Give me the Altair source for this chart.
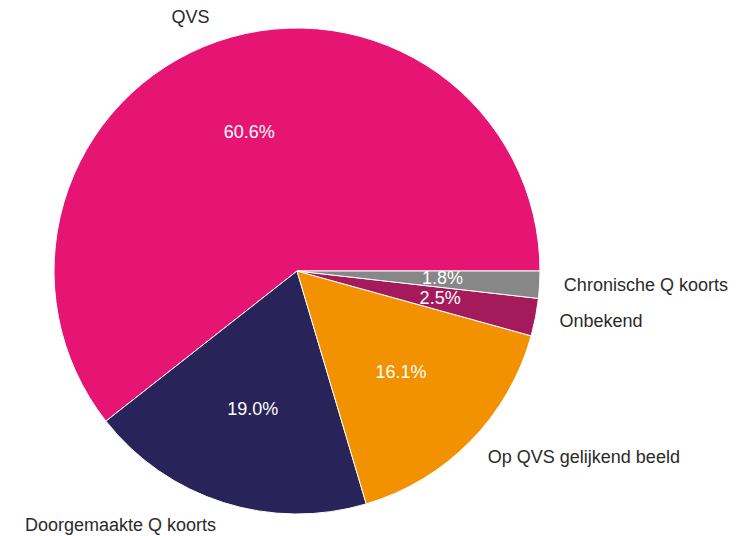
import math
import altair as alt
import pandas as pd

categories = ["QVS", "Doorgemaakte Q koorts", "Op QVS gelijkend beeld", "Onbekend", "Chronische Q koorts"]
values = [60.6, 19.0, 16.1, 2.5, 1.8]
colors = ["#E61472", "#28245A", "#F39200", "#A51A5B", "#878787"]
label_side = ["right", "right", "left", "left", "left"]

df = pd.DataFrame({
    "cat": categories,
    "value": values,
    "idx": list(range(len(categories))),
    "side": label_side,
})

R = 243
CX, CY = 289, 263
theta_scale = alt.Scale(domain=[0, 100], range=[math.pi / 2, math.pi / 2 - 2 * math.pi])
color_scale = alt.Scale(domain=categories, range=colors)

base = alt.Chart(df)

arcs = base.mark_arc(radius=R, stroke="white", strokeWidth=1).encode(
    theta=alt.Theta("value:Q", stack=True, scale=theta_scale),
    order=alt.Order("idx:Q"),
    color=alt.Color("cat:N", scale=color_scale, legend=None),
    x=alt.value(CX),
    y=alt.value(CY),
)

mid = base.transform_window(
    cum="sum(value)", sort=[alt.SortField("idx")], frame=[None, 0]
).transform_calculate(
    mid="datum.cum - datum.value / 2",
    pct="format(datum.value, '.1f') + '%'",
)

FONT = "Liberation Sans"
FS = 18

pct_text = mid.mark_text(radius=R * 0.6, font=FONT, fontSize=FS, color="white",
                         align="center", baseline="middle").encode(
    theta=alt.Theta("mid:Q", stack=None, scale=theta_scale),
    text="pct:N",
    x=alt.value(CX),
    y=alt.value(CY),
)

lab_right = mid.transform_filter("datum.side == 'right'").mark_text(
    radius=R * 1.1, font=FONT, fontSize=FS, color="#2a2a2a",
    align="right", baseline="middle").encode(
    theta=alt.Theta("mid:Q", stack=None, scale=theta_scale),
    text="cat:N",
    x=alt.value(CX),
    y=alt.value(CY),
)

lab_left = mid.transform_filter("datum.side == 'left'").mark_text(
    radius=R * 1.1, font=FONT, fontSize=FS, color="#2a2a2a",
    align="left", baseline="middle").encode(
    theta=alt.Theta("mid:Q", stack=None, scale=theta_scale),
    text="cat:N",
    x=alt.value(CX),
    y=alt.value(CY),
)

chart = alt.layer(arcs, pct_text, lab_right, lab_left).properties(
    width=727, height=528,
    autosize=alt.AutoSizeParams(type="none"),
    padding=0,
).configure_view(stroke=None)

chart.save("out.html", embed_options={"renderer": "svg", "actions": False})
